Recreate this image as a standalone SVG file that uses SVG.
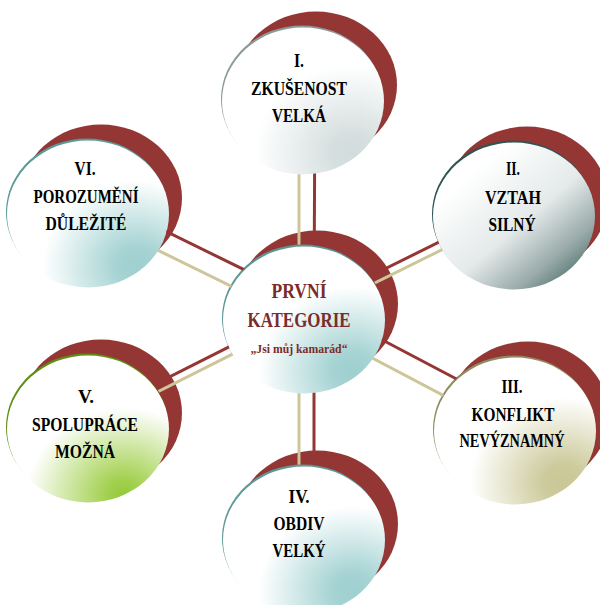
<svg xmlns="http://www.w3.org/2000/svg" width="600" height="605" viewBox="0 0 600 605">
<defs>
<style>
.back{fill:#943634}
.lbl{font-family:'Liberation Serif','Times New Roman',serif;font-weight:bold;font-size:18px;fill:#000;text-anchor:middle}
.ctr{fill:#7a2c2c;font-size:20px}
.sub{font-size:13px}
.red{stroke:#943634;stroke-width:3;fill:none}
.tan{stroke:#cdc69a;stroke-width:3;fill:none}
</style>
<radialGradient id="gI" cx="0.8" cy="0.85" r="0.85"><stop offset="0" stop-color="#d2dcdc"/><stop offset="0.15" stop-color="#d6dfdf"/><stop offset="0.7" stop-color="#fff"/></radialGradient>
<radialGradient id="gT" cx="0.8" cy="0.85" r="0.85"><stop offset="0" stop-color="#9fcfcf"/><stop offset="0.15" stop-color="#a6d3d3"/><stop offset="0.68" stop-color="#fff"/></radialGradient>
<radialGradient id="gIII" cx="0.8" cy="0.85" r="0.85"><stop offset="0" stop-color="#c9c795"/><stop offset="0.15" stop-color="#cdcb9d"/><stop offset="0.68" stop-color="#fff"/></radialGradient>
<radialGradient id="gV" cx="0.72" cy="0.95" r="0.85"><stop offset="0" stop-color="#94c93a"/><stop offset="0.12" stop-color="#a2d04e"/><stop offset="0.7" stop-color="#fff"/></radialGradient>
<linearGradient id="gII" x1="0.25" y1="0.2" x2="0.95" y2="0.95"><stop offset="0" stop-color="#fff"/><stop offset="0.45" stop-color="#e4e9e9"/><stop offset="0.75" stop-color="#98aaa9"/><stop offset="1" stop-color="#3d6260"/></linearGradient>
<mask id="fronts" maskUnits="userSpaceOnUse" x="0" y="0" width="600" height="605">
<rect width="600" height="605" fill="#fff"/>
<g fill="#000">
<ellipse cx="303" cy="100" rx="81" ry="74.5"/>
<ellipse cx="514" cy="215" rx="81" ry="74.5"/>
<ellipse cx="515" cy="430" rx="81" ry="74.5"/>
<ellipse cx="304" cy="539" rx="81" ry="74.5"/>
<ellipse cx="88" cy="428" rx="81" ry="74.5"/>
<ellipse cx="88" cy="213" rx="81" ry="74.5"/>
<ellipse cx="304" cy="319" rx="81" ry="74.5"/>
</g>
</mask>
</defs>
<rect width="600" height="605" fill="#fff"/>

<g id="node-1">
<ellipse class="back" cx="316" cy="85" rx="81" ry="73.5"/>
<ellipse cx="302" cy="99" rx="81" ry="73.5" fill="#8c9a9a"/>
<ellipse cx="303" cy="101" rx="81" ry="73.5" fill="url(#gI)"/>
<g class="lbl">
<text x="299" y="67" textLength="10" lengthAdjust="spacingAndGlyphs">I.</text>
<text x="299" y="95" textLength="96" lengthAdjust="spacingAndGlyphs">ZKUŠENOST</text>
<text x="299" y="122" textLength="54" lengthAdjust="spacingAndGlyphs">VELKÁ</text>
</g>
</g>

<g id="node-2">
<ellipse class="back" cx="527" cy="200" rx="81" ry="73.5"/>
<ellipse cx="513" cy="214" rx="81" ry="73.5" fill="#2f5553"/>
<ellipse cx="514" cy="216" rx="81" ry="73.5" fill="url(#gII)"/>
<g class="lbl">
<text x="513" y="175" textLength="14" lengthAdjust="spacingAndGlyphs">II.</text>
<text x="513" y="204" textLength="56" lengthAdjust="spacingAndGlyphs">VZTAH</text>
<text x="512" y="231" textLength="47" lengthAdjust="spacingAndGlyphs">SILNÝ</text>
</g>
</g>

<g id="node-3">
<ellipse class="back" cx="528" cy="415" rx="81" ry="73.5"/>
<ellipse cx="514" cy="429" rx="81" ry="73.5" fill="#8d8b5f"/>
<ellipse cx="515" cy="431" rx="81" ry="73.5" fill="url(#gIII)"/>
<g class="lbl">
<text x="512" y="393" textLength="21" lengthAdjust="spacingAndGlyphs">III.</text>
<text x="513" y="421" textLength="83" lengthAdjust="spacingAndGlyphs">KONFLIKT</text>
<text x="512" y="447" textLength="105" lengthAdjust="spacingAndGlyphs">NEVÝZNAMNÝ</text>
</g>
</g>

<g id="node-4">
<ellipse class="back" cx="317" cy="524" rx="81" ry="73.5"/>
<ellipse cx="303" cy="538" rx="81" ry="73.5" fill="#5e9897"/>
<ellipse cx="304" cy="540" rx="81" ry="73.5" fill="url(#gT)"/>
<g class="lbl">
<text x="299" y="503" textLength="21" lengthAdjust="spacingAndGlyphs">IV.</text>
<text x="299" y="530" textLength="51" lengthAdjust="spacingAndGlyphs">OBDIV</text>
<text x="299" y="557" textLength="53" lengthAdjust="spacingAndGlyphs">VELKÝ</text>
</g>
</g>

<g id="node-5">
<ellipse class="back" cx="101" cy="413" rx="81" ry="73.5"/>
<ellipse cx="87" cy="427" rx="81" ry="73.5" fill="#5e8e12"/>
<ellipse cx="88" cy="429" rx="81" ry="73.5" fill="url(#gV)"/>
<g class="lbl">
<text x="86" y="403" textLength="16" lengthAdjust="spacingAndGlyphs">V.</text>
<text x="85" y="431" textLength="106" lengthAdjust="spacingAndGlyphs">SPOLUPRÁCE</text>
<text x="85" y="458" textLength="60" lengthAdjust="spacingAndGlyphs">MOŽNÁ</text>
</g>
</g>

<g id="node-6">
<ellipse class="back" cx="101" cy="198" rx="81" ry="73.5"/>
<ellipse cx="87" cy="212" rx="81" ry="73.5" fill="#5a9998"/>
<ellipse cx="88" cy="214" rx="81" ry="73.5" fill="url(#gT)"/>
<g class="lbl">
<text x="85" y="175" textLength="21" lengthAdjust="spacingAndGlyphs">VI.</text>
<text x="86" y="203" textLength="105" lengthAdjust="spacingAndGlyphs">POROZUMĚNÍ</text>
<text x="86" y="230" textLength="81" lengthAdjust="spacingAndGlyphs">DŮLEŽITÉ</text>
</g>
</g>

<g id="node-center">
<ellipse class="back" cx="317" cy="304" rx="81" ry="73.5"/>
<ellipse cx="303" cy="318" rx="81" ry="73.5" fill="#5a9696"/>
<ellipse cx="304" cy="320" rx="81" ry="73.5" fill="url(#gT)"/>
<g class="lbl ctr">
<text x="299" y="298" textLength="55" lengthAdjust="spacingAndGlyphs">PRVNÍ</text>
<text x="299" y="327" textLength="103" lengthAdjust="spacingAndGlyphs">KATEGORIE</text>
<text class="sub" x="299" y="353" textLength="97" lengthAdjust="spacingAndGlyphs">„Jsi můj kamarád“</text>
</g>
</g>

<g id="connectors" mask="url(#fronts)">
<line class="red" x1="315" y1="85" x2="314" y2="304"/>
<line class="tan" x1="299" y1="101" x2="299" y2="320"/>
<line class="red" x1="314" y1="304" x2="524" y2="200"/>
<line class="tan" x1="300" y1="320" x2="510" y2="216"/>
<line class="red" x1="314" y1="304" x2="525" y2="415"/>
<line class="tan" x1="300" y1="320" x2="511" y2="431"/>
<line class="red" x1="314" y1="304" x2="314" y2="524"/>
<line class="tan" x1="299" y1="320" x2="299" y2="540"/>
<line class="red" x1="314" y1="304" x2="98" y2="413"/>
<line class="tan" x1="300" y1="320" x2="84" y2="429"/>
<line class="red" x1="314" y1="304" x2="98" y2="198"/>
<line class="tan" x1="300" y1="320" x2="84" y2="214"/>
</g>
</svg>
